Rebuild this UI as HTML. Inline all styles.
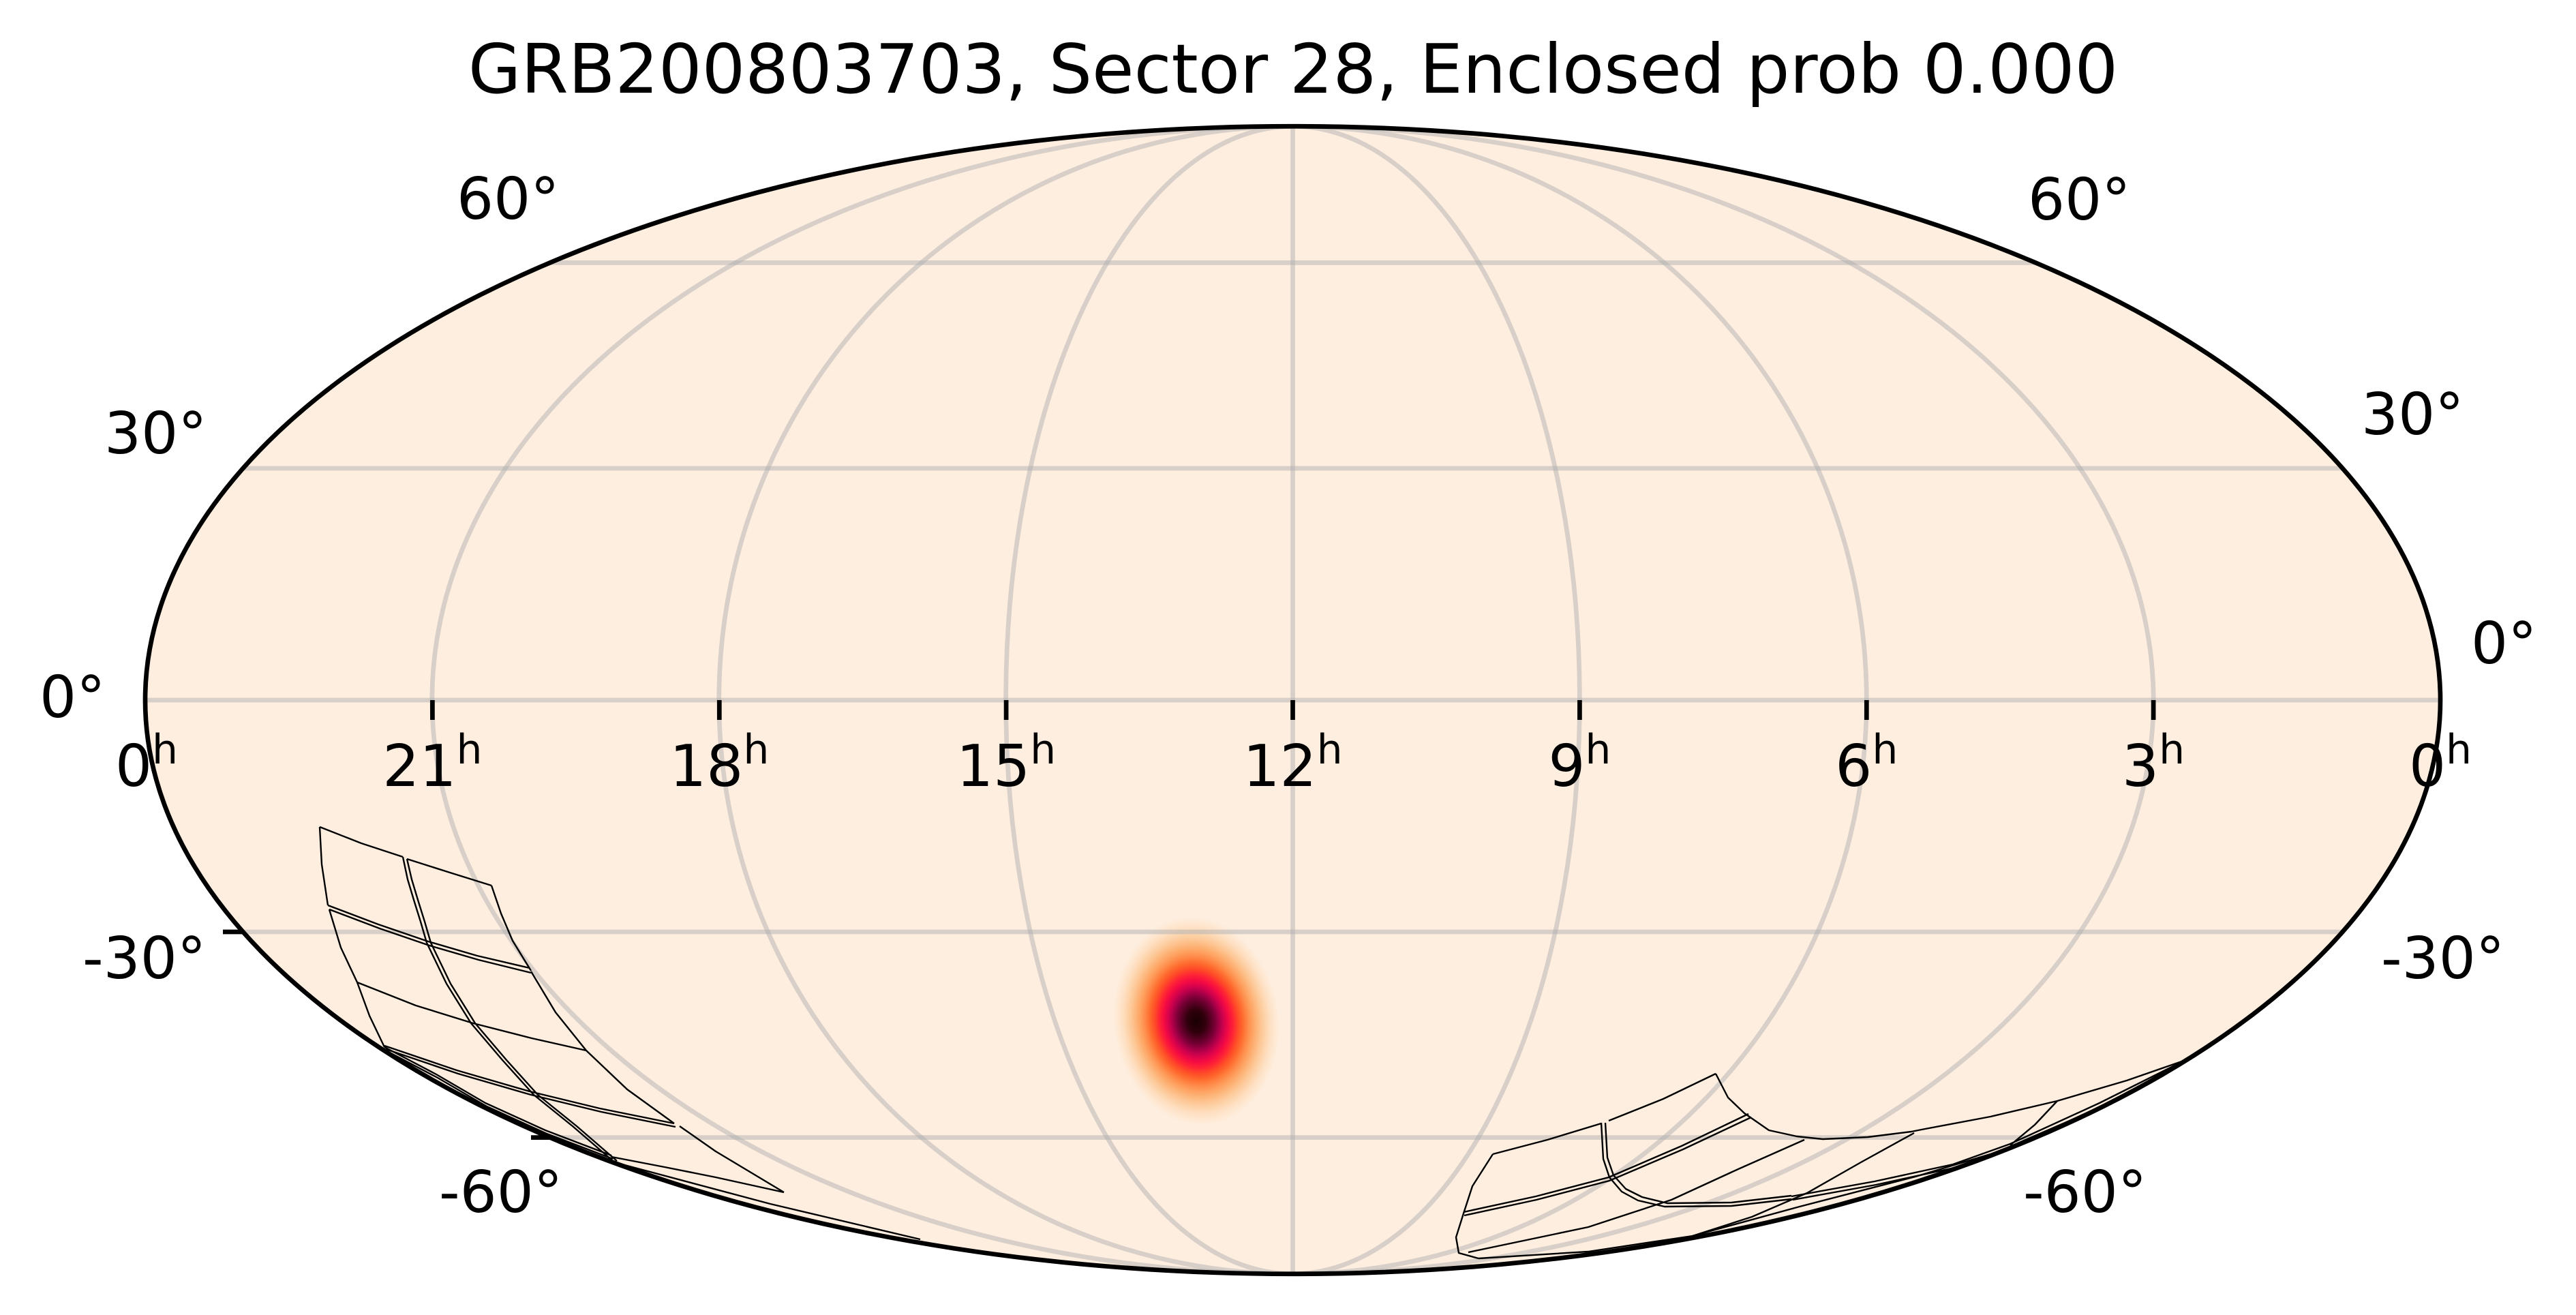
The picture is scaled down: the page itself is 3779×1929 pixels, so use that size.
<!DOCTYPE html>
<html>
<head>
<meta charset="utf-8">
<style>
html,body{margin:0;padding:0;background:#ffffff;}
svg{display:block;}
text{font-family:"DejaVu Sans","Liberation Sans",sans-serif;fill:#000;}
</style>
</head>
<body>
<svg xmlns="http://www.w3.org/2000/svg" width="3779" height="1929" viewBox="0 0 3779 1929">
<defs>
<clipPath id="sky"><ellipse cx="1896.5" cy="1027" rx="1683.5" ry="841.75"/></clipPath>
<radialGradient id="blob">
<stop offset="0" stop-color="rgb(25,0,0)"/>
<stop offset="0.1" stop-color="rgb(49,0,13)"/>
<stop offset="0.2" stop-color="rgb(119,0,53)"/>
<stop offset="0.25" stop-color="rgb(167,0,72)"/>
<stop offset="0.3" stop-color="rgb(213,2,77)"/>
<stop offset="0.35" stop-color="rgb(244,11,67)"/>
<stop offset="0.4" stop-color="rgb(255,36,53)"/>
<stop offset="0.45" stop-color="rgb(255,74,40)"/>
<stop offset="0.5" stop-color="rgb(255,105,45)"/>
<stop offset="0.55" stop-color="rgb(255,135,70)"/>
<stop offset="0.6" stop-color="rgb(254,160,95)"/>
<stop offset="0.65" stop-color="rgb(253,180,120)"/>
<stop offset="0.7" stop-color="rgb(253,198,148)"/>
<stop offset="0.75" stop-color="rgb(253,212,172)"/>
<stop offset="0.8" stop-color="rgb(254,224,195)"/>
<stop offset="0.85" stop-color="rgb(254,232,210)"/>
<stop offset="0.9" stop-color="rgb(254,238,224)"/>
<stop offset="1" stop-color="rgb(254,238,224)" stop-opacity="0"/>
</radialGradient>
</defs>

<!-- title -->
<text x="1897" y="136" font-size="100" text-anchor="middle">GRB200803703, Sector 28, Enclosed prob 0.000</text>

<!-- sky background -->
<ellipse cx="1896.5" cy="1027" rx="1683.5" ry="841.75" fill="rgb(254,238,224)"/>

<g clip-path="url(#sky)">
  <!-- probability blob -->
  <ellipse cx="0" cy="0" rx="1" ry="1" transform="translate(1755 1498) rotate(-8) scale(135 171)" fill="url(#blob)"/>

  <!-- grid -->
  <g fill="none" stroke="#b0b0b0" stroke-opacity="0.5" stroke-width="6.7">
    <ellipse cx="1896.5" cy="1027" rx="420.875" ry="841.75"/>
    <ellipse cx="1896.5" cy="1027" rx="841.75" ry="841.75"/>
    <ellipse cx="1896.5" cy="1027" rx="1262.625" ry="841.75"/>
    <line x1="1896.5" y1="180" x2="1896.5" y2="1875"/>
    <line x1="806.8" y1="385.4" x2="2986.2" y2="385.4"/>
    <line x1="356.5" y1="687" x2="3436.5" y2="687"/>
    <line x1="200" y1="1027" x2="3600" y2="1027"/>
    <line x1="356.5" y1="1367" x2="3436.5" y2="1367"/>
    <line x1="806.8" y1="1668.6" x2="2986.2" y2="1668.6"/>
  </g>

  <!-- footprints left group -->
  <g fill="none" stroke="#000" stroke-width="2.4" stroke-linejoin="round">
    <polyline points="469,1213 530,1237 591,1257"/>
    <polyline points="597,1260 660,1280 721,1299"/>
    <polyline points="469,1213 472,1268 481,1328"/>
    <polyline points="481,1328 555,1356 628,1381 700,1402 777,1420"/>
    <polyline points="483,1334 557,1362 630,1387 702,1408 779,1427"/>
    <polyline points="591,1257 598,1290 607,1320 617,1352 626,1383"/>
    <polyline points="597,1260 604,1290 613,1320 623,1352 632,1383"/>
    <polyline points="721,1299 735,1340 752,1380 779,1424"/>
    <polyline points="483,1334 500,1390 524,1441"/>
    <polyline points="524,1441 610,1475 694,1501 780,1523 860,1541"/>
    <polyline points="626,1383 655,1443 691,1501 737,1555 783,1606"/>
    <polyline points="632,1383 661,1443 697,1501 743,1555 789,1606"/>
    <polyline points="779,1425 815,1485 860,1541 920,1598 989,1648"/>
    <polyline points="524,1441 542,1490 564,1536"/>
    <polyline points="564,1534 670,1570 777,1601 880,1626 989,1648"/>
    <polyline points="566,1539 672,1575 779,1606 882,1631 991,1653"/>
    <polyline points="783,1606 840,1652 899,1703"/>
    <polyline points="789,1606 846,1652 905,1703"/>
    <polyline points="564,1536 640,1576 712,1618 800,1658 897,1695"/>
    <polyline points="566,1541 642,1581 714,1623 802,1663 899,1700"/>
    <polyline points="897,1697 975,1712 1050,1727 1150,1749"/>
    <polyline points="997,1652 1050,1689 1150,1749"/>
    <polyline points="905,1706 1130,1766 1350,1818"/>
  </g>

  <!-- footprints right group -->
  <g fill="none" stroke="#000" stroke-width="2.4" stroke-linejoin="round">
    <polyline points="2517,1575 2440,1612 2360,1644"/>
    <polyline points="2349,1648 2270,1672 2190,1693"/>
    <polyline points="2190,1693 2160,1740 2147,1780 2136,1815 2140,1838 2169,1846"/>
    <polyline points="2169,1846 2330,1836 2483,1813"/>
    <polyline points="2147,1778 2253,1755 2360,1727 2467,1681 2565,1634"/>
    <polyline points="2148,1783 2254,1760 2361,1732 2469,1686 2569,1639"/>
    <polyline points="2349,1647 2352,1700 2361,1727 2379,1748 2403,1761 2442,1770 2540,1769 2628,1759"/>
    <polyline points="2355,1647 2358,1698 2367,1724 2385,1744 2409,1756 2446,1765 2540,1764 2628,1754"/>
    <polyline points="2517,1575 2535,1610 2559,1633 2595,1658 2636,1667 2674,1671 2740,1668 2804,1660 2819,1657"/>
    <polyline points="2647,1672 2550,1715 2452,1760 2330,1800 2154,1837"/>
    <polyline points="2819,1657 2920,1638 3018,1615 3120,1585 3215,1552"/>
    <polyline points="2808,1662 2730,1705 2651,1750 2570,1785 2483,1813"/>
    <polyline points="2628,1755 2750,1733 2865,1708 2949,1678 3080,1618 3200,1558"/>
    <polyline points="2630,1760 2752,1738 2867,1713 2951,1683 3082,1623 3203,1562"/>
    <polyline points="3018,1615 2985,1650 2949,1680"/>
    <polyline points="2483,1813 2640,1770 2810,1726 2930,1690 3080,1625 3210,1556"/>
  </g>
</g>

<!-- boundary -->
<ellipse cx="1896.5" cy="1027" rx="1683.5" ry="841.75" fill="none" stroke="#000" stroke-width="6.7"/>

<!-- ticks -->
<g stroke="#000" stroke-width="6.7">
  <line x1="634.4" y1="1027" x2="634.4" y2="1056"/>
  <line x1="1055.3" y1="1027" x2="1055.3" y2="1056"/>
  <line x1="1476.1" y1="1027" x2="1476.1" y2="1056"/>
  <line x1="1896.5" y1="1027" x2="1896.5" y2="1056"/>
  <line x1="2317.4" y1="1027" x2="2317.4" y2="1056"/>
  <line x1="2738.3" y1="1027" x2="2738.3" y2="1056"/>
  <line x1="3159.1" y1="1027" x2="3159.1" y2="1056"/>
  <line x1="327" y1="1367" x2="356" y2="1367"/>
  <line x1="779" y1="1668.6" x2="808" y2="1668.6"/>
</g>

<!-- x tick labels -->
<g font-size="85" text-anchor="middle">
  <text x="215" y="1153">0<tspan font-size="60" dy="-33">h</tspan></text>
  <text x="634.4" y="1153">21<tspan font-size="60" dy="-33">h</tspan></text>
  <text x="1055.3" y="1153">18<tspan font-size="60" dy="-33">h</tspan></text>
  <text x="1476.1" y="1153">15<tspan font-size="60" dy="-33">h</tspan></text>
  <text x="1896.5" y="1153">12<tspan font-size="60" dy="-33">h</tspan></text>
  <text x="2317.4" y="1153">9<tspan font-size="60" dy="-33">h</tspan></text>
  <text x="2738.3" y="1153">6<tspan font-size="60" dy="-33">h</tspan></text>
  <text x="3159.1" y="1153">3<tspan font-size="60" dy="-33">h</tspan></text>
  <text x="3580" y="1153">0<tspan font-size="60" dy="-33">h</tspan></text>
</g>

<!-- y tick labels -->
<g font-size="85">
  <text x="670" y="321">60°</text>
  <text x="153" y="665">30°</text>
  <text x="58" y="1052">0°</text>
  <text x="121" y="1435">-30°</text>
  <text x="644" y="1778">-60°</text>
  <text x="2975" y="322">60°</text>
  <text x="3464" y="637">30°</text>
  <text x="3625" y="973">0°</text>
  <text x="3493" y="1435">-30°</text>
  <text x="2968" y="1778">-60°</text>
</g>
</svg>
</body>
</html>
